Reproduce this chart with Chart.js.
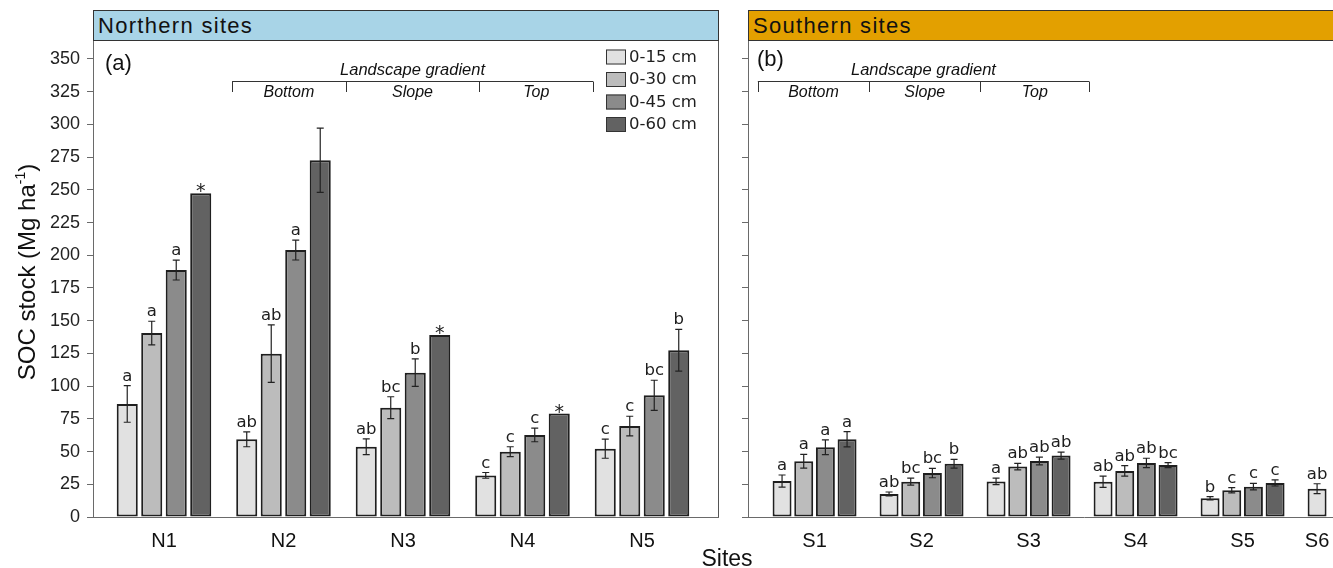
<!DOCTYPE html>
<html>
<head>
<meta charset="utf-8">
<title>SOC stock by site and depth</title>
<script src="https://cdn.jsdelivr.net/npm/chart.js@4.4.1/dist/chart.umd.min.js"></script>
<style>
  html, body { margin: 0; padding: 0; background: #fff; overflow: hidden; }
  #wrap { position: relative; width: 1333px; height: 568px; overflow: hidden; background: #fff; }
  canvas { position: absolute; top: 0; }
  #cN { left: 0; }
  #cS { left: 730px; }
  .hdr { position: absolute; top: 10px; height: 31px; box-sizing: border-box; border: 1px solid #333;
         font: 22px "Liberation Sans", Arial, sans-serif; letter-spacing: 1.3px; line-height: 29px;
         padding-left: 4px; color: #111; white-space: nowrap; }
  #hN { left: 93px; width: 626px; background: #a8d4e7; }
  #hS { left: 748px; width: 640px; background: #e3a000; }
</style>
</head>
<body>
<div id="wrap">
  <canvas id="cN" width="760" height="568" style="width:760px;height:568px"></canvas>
  <canvas id="cS" width="700" height="568" style="width:700px;height:568px"></canvas>
  <div class="hdr" id="hN">Northern sites</div>
  <div class="hdr" id="hS">Southern sites</div>
</div>
<script>
// ---- data ---------------------------------------------------------------
const depthLabels = ['0-15 cm', '0-30 cm', '0-45 cm', '0-60 cm'];
const northSites = ['N1', 'N2', 'N3', 'N4', 'N5'];
const southSites = ['S1', 'S2', 'S3', 'S4', 'S5', 'S6'];
const socTicks = [0, 25, 50, 75, 100, 125, 150, 175, 200, 225, 250, 275, 300, 325, 350];
const gradientZones = ['Bottom', 'Slope', 'Top'];

// SOC stock means (Mg ha-1) per cumulative depth
const north015 = [86.4, 59.4, 53.7, 31.8, 52.2];
const north030 = [140.6, 124.8, 83.5, 49.9, 69.5];
const north045 = [188.7, 204.0, 110.3, 62.7, 93.0];
const north060 = [247.4, 272.6, 139.0, 79.0, 127.4];
// standard errors (0 = no error bar)
const north015Err = [14.0, 5.7, 6.0, 2.2, 7.3];
const north030Err = [9.0, 22.0, 8.4, 3.8, 7.5];
const north045Err = [7.6, 7.6, 10.5, 5.2, 11.5];
const north060Err = [0, 24.6, 0, 0, 16.0];
// significance letters
const north015Sig = ['a', 'ab', 'ab', 'c', 'c'];
const north030Sig = ['a', 'ab', 'bc', 'c', 'c'];
const north045Sig = ['a', 'a', 'b', 'c', 'bc'];
const north060Sig = ['*', '', '*', '*', 'b'];

const south015 = [27.5, 17.6, 27.2, 27.0, 14.3, 21.6];
const south030 = [42.6, 27.0, 38.5, 35.2, 20.4, null];
const south045 = [53.3, 33.6, 42.8, 41.3, 23.2, null];
const south060 = [59.4, 40.7, 46.9, 39.7, 26.0, null];
const south015Err = [4.6, 1.5, 2.5, 4.3, 1.2, 3.8];
const south030Err = [5.3, 2.7, 2.5, 4.0, 2.0, null];
const south045Err = [5.6, 3.6, 2.9, 3.6, 2.5, null];
const south060Err = [5.8, 3.4, 2.7, 1.9, 2.3, null];
const south015Sig = ['a', 'ab', 'a', 'ab', 'b', 'ab'];
const south030Sig = ['a', 'bc', 'ab', 'ab', 'c', ''];
const south045Sig = ['a', 'bc', 'ab', 'ab', 'c', ''];
const south060Sig = ['a', 'b', 'ab', 'bc', 'c', ''];

// landscape-gradient bracket edges, in site-axis units
const northGradientEdges = [1.57, 2.52, 3.64, 4.59];
const southGradientEdges = [0.47, 1.51, 2.55, 3.565];

// ---- styling ------------------------------------------------------------
const depthFill = ['#e1e1e1', '#bcbcbc', '#8b8b8b', '#626262'];
const FONT_SANS = '"Liberation Sans", Arial, sans-serif';
const FONT_WIDE = '"DejaVu Sans", Verdana, sans-serif';
const INK = '#1e1e1e';
const AXIS = '#6a6a6a';
const Y_MAX = 364.5;

function toPoints(values) {
  return values.map((v, i) => (v == null ? null : { x: i + 1, y: v })).filter(Boolean);
}

function buildDatasets(series, errs, sigs) {
  return series.map((vals, d) => ({
    label: depthLabels[d],
    data: toPoints(vals),
    errors: errs[d],
    marks: sigs[d],
    backgroundColor: depthFill[d],
    borderColor: '#1f1f1f',
    borderWidth: 2,
    borderSkipped: false
  }));
}

// error bars, significance letters and site names under each group
function drawBarExtras(chart, sites) {
  const { ctx, chartArea } = chart;
  const yScale = chart.scales.y;
  const groupX = sites.map(() => []);
  ctx.save();
  ctx.strokeStyle = '#222';
  ctx.lineWidth = 1.2;
  ctx.fillStyle = INK;
  ctx.textAlign = 'center';
  ctx.textBaseline = 'alphabetic';
  chart.data.datasets.forEach((ds, di) => {
    const meta = chart.getDatasetMeta(di);
    meta.data.forEach((bar, k) => {
      const pt = ds.data[k];
      const j = pt.x - 1;
      groupX[j].push(bar.x);
      const err = ds.errors[j];
      let top = bar.y;
      if (err) {
        const yHi = yScale.getPixelForValue(pt.y + err);
        const yLo = yScale.getPixelForValue(pt.y - err);
        const cap = 3.5;
        ctx.beginPath();
        ctx.moveTo(bar.x, yHi); ctx.lineTo(bar.x, yLo);
        ctx.moveTo(bar.x - cap, yHi); ctx.lineTo(bar.x + cap, yHi);
        ctx.moveTo(bar.x - cap, yLo); ctx.lineTo(bar.x + cap, yLo);
        ctx.stroke();
        top = yHi;
      }
      const mark = ds.marks[j];
      if (mark === '*') {
        ctx.font = '19px ' + FONT_WIDE;
        ctx.fillText(mark, bar.x, top + 4);
      } else if (mark) {
        ctx.font = '16.5px ' + FONT_WIDE;
        ctx.fillText(mark, bar.x, top - 5);
      }
    });
  });
  ctx.font = '20px ' + FONT_SANS;
  ctx.fillStyle = '#111';
  sites.forEach((name, j) => {
    const xs = groupX[j];
    if (!xs.length) return;
    const cx = (Math.min(...xs) + Math.max(...xs)) / 2;
    ctx.fillText(name, cx, chartArea.bottom + 30);
  });
  ctx.restore();
}

function drawGradientBracket(chart, edges) {
  const { ctx } = chart;
  const xs = edges.map(v => chart.scales.x.getPixelForValue(v));
  const yLine = 81.5, yTick = 92;
  ctx.save();
  ctx.strokeStyle = '#333';
  ctx.lineWidth = 1;
  ctx.beginPath();
  ctx.moveTo(xs[0], yLine); ctx.lineTo(xs[xs.length - 1], yLine);
  xs.forEach(x => { const px = Math.round(x) + 0.5; ctx.moveTo(px, yLine); ctx.lineTo(px, yTick); });
  ctx.stroke();
  ctx.fillStyle = '#111';
  ctx.textAlign = 'center';
  ctx.textBaseline = 'alphabetic';
  ctx.font = 'italic 16.5px ' + FONT_SANS;
  ctx.fillText('Landscape gradient', (xs[0] + xs[xs.length - 1]) / 2, 75);
  ctx.font = 'italic 16px ' + FONT_SANS;
  gradientZones.forEach((z, i) => ctx.fillText(z, (xs[i] + xs[i + 1]) / 2, 97));
  ctx.restore();
}

function drawLegend(chart) {
  const { ctx, chartArea } = chart;
  const x0 = chartArea.right - 112;
  const y0 = chartArea.top + 9.5;
  ctx.save();
  ctx.font = '16.5px ' + FONT_WIDE;
  ctx.textBaseline = 'middle';
  ctx.textAlign = 'left';
  chart.data.datasets.forEach((ds, i) => {
    const y = y0 + i * 22.5;
    ctx.fillStyle = ds.backgroundColor;
    ctx.fillRect(x0, y, 20, 15);
    ctx.strokeStyle = '#333';
    ctx.lineWidth = 1;
    ctx.strokeRect(x0 + 0.5, y + 0.5, 19, 14);
    ctx.fillStyle = INK;
    ctx.fillText(ds.label, x0 + 23, y + 8);
  });
  ctx.restore();
}

const northDecor = {
  id: 'northDecor',
  afterDatasetsDraw(chart) {
    const { ctx, chartArea } = chart;
    // right edge of the panel frame
    ctx.save();
    ctx.strokeStyle = '#555';
    ctx.lineWidth = 1;
    ctx.beginPath();
    ctx.moveTo(chartArea.right + 0.5, chartArea.top);
    ctx.lineTo(chartArea.right + 0.5, chartArea.bottom);
    ctx.stroke();
    // panel tag
    ctx.fillStyle = '#111';
    ctx.font = '22px ' + FONT_SANS;
    ctx.textAlign = 'left';
    ctx.textBaseline = 'alphabetic';
    ctx.fillText('(a)', chartArea.left + 12, chartArea.top + 30);
    // y-axis title with superscript unit
    ctx.translate(35, 272);
    ctx.rotate(-Math.PI / 2);
    const main = 'SOC stock (Mg ha';
    ctx.font = '24px ' + FONT_SANS;
    const wMain = ctx.measureText(main).width;
    ctx.font = '14px ' + FONT_SANS;
    const wSup = ctx.measureText('-1').width;
    ctx.font = '24px ' + FONT_SANS;
    const wEnd = ctx.measureText(')').width;
    let x = -(wMain + wSup + wEnd) / 2;
    ctx.fillText(main, x, 0); x += wMain;
    ctx.font = '14px ' + FONT_SANS;
    ctx.fillText('-1', x, -10); x += wSup;
    ctx.font = '24px ' + FONT_SANS;
    ctx.fillText(')', x, 0);
    ctx.restore();
    // shared x-axis title
    ctx.save();
    ctx.fillStyle = '#111';
    ctx.font = '23px ' + FONT_SANS;
    ctx.textAlign = 'center';
    ctx.fillText('Sites', 727, 566);
    ctx.restore();
    drawGradientBracket(chart, northGradientEdges);
    drawLegend(chart);
    drawBarExtras(chart, northSites);
  }
};

const southDecor = {
  id: 'southDecor',
  afterDatasetsDraw(chart) {
    const { ctx, chartArea } = chart;
    ctx.save();
    ctx.fillStyle = '#111';
    ctx.font = '22px ' + FONT_SANS;
    ctx.textAlign = 'left';
    ctx.fillText('(b)', chartArea.left + 9, chartArea.top + 26);
    ctx.restore();
    drawGradientBracket(chart, southGradientEdges);
    drawBarExtras(chart, southSites);
  }
};

function panelOptions(p) {
  return {
    responsive: false,
    animation: false,
    layout: { padding: { top: 40, right: p.padRight, bottom: 0, left: 0 } },
    categoryPercentage: p.catPct,
    barPercentage: p.barPct,
    plugins: { legend: { display: false }, tooltip: { enabled: false } },
    scales: {
      x: {
        type: 'linear',
        min: p.xMin, max: p.xMax,
        offset: false,
        afterBuildTicks: s => { s.ticks = p.sites.map((_, i) => ({ value: i + 1 })); },
        afterFit: s => { s.height = 51; },
        grid: { display: false },
        border: { display: true, color: AXIS, width: 1 },
        ticks: { display: false }
      },
      y: {
        min: 0, max: Y_MAX,
        afterBuildTicks: s => { s.ticks = socTicks.map(v => ({ value: v })); },
        afterFit: s => { s.width = p.yWidth; },
        grid: { display: true, drawOnChartArea: false, drawTicks: true, tickLength: 6, color: AXIS, lineWidth: 1 },
        border: { display: true, color: AXIS, width: 1 },
        ticks: {
          display: true,
          padding: 7,
          color: '#222',
          font: { family: FONT_SANS, size: 18 },
          callback: v => (p.showYLabels ? String(v) : '')
        }
      }
    }
  };
}

new Chart(document.getElementById('cN'), {
  type: 'bar',
  data: {
    datasets: buildDatasets(
      [north015, north030, north045, north060],
      [north015Err, north030Err, north045Err, north060Err],
      [north015Sig, north030Sig, north045Sig, north060Sig])
  },
  options: panelOptions({
    sites: northSites, xMin: 0.406, xMax: 5.636, yWidth: 93, padRight: 42,
    catPct: 0.82, barPct: 0.86, showYLabels: true
  }),
  plugins: [northDecor]
});

new Chart(document.getElementById('cS'), {
  type: 'bar',
  data: {
    datasets: buildDatasets(
      [south015, south030, south045, south060],
      [south015Err, south030Err, south045Err, south060Err],
      [south015Sig, south030Sig, south045Sig, south060Sig])
  },
  options: panelOptions({
    sites: southSites, xMin: 0.378, xMax: 6.658, yWidth: 18, padRight: 10,
    catPct: 0.81, barPct: 0.875, showYLabels: false
  }),
  plugins: [southDecor]
});
</script>
</body>
</html>
